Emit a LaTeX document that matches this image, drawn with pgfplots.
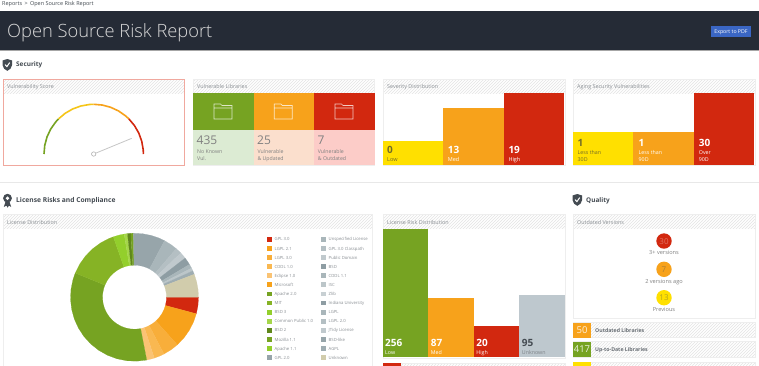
\documentclass[border=0pt]{standalone}
\usepackage{fontspec}
\setmainfont{Open Sans}
\newfontfamily\lightf{Open Sans Light}
\usepackage{pgfplots}
\pgfplotsset{compat=1.18}
\usepgfplotslibrary{polar}
\usetikzlibrary{patterns}
\definecolor{hdr}{HTML}{252B36}
\definecolor{cg}{HTML}{76A322}
\definecolor{co}{HTML}{F7A21B}
\definecolor{cr}{HTML}{D2280F}
\definecolor{cy}{HTML}{FFE000}
\definecolor{cgr}{HTML}{BEC8CE}
\definecolor{txtg}{HTML}{8A8F94}
\definecolor{txtd}{HTML}{444B52}
\definecolor{cardb}{HTML}{EEEEEE}
\definecolor{hatch}{HTML}{E4E4E4}
\definecolor{btn}{HTML}{3A66C4}
\definecolor{salmon}{HTML}{F0A89E}
\definecolor{gy}{HTML}{F5C518}
\definecolor{tg}{HTML}{DCEBD3}
\definecolor{to}{HTML}{FBDFCD}
\definecolor{tr}{HTML}{FCCCC8}
\definecolor{o1}{HTML}{F8AE3A}
\definecolor{o2}{HTML}{F9B851}
\definecolor{o3}{HTML}{FAC374}
\definecolor{g1}{HTML}{86B325}
\definecolor{g2}{HTML}{93CF2C}
\definecolor{g3}{HTML}{A5D64A}
\definecolor{g4}{HTML}{5F871B}
\definecolor{a1}{HTML}{97A5AA}
\definecolor{a2}{HTML}{A9B6BA}
\definecolor{a3}{HTML}{B4BFC3}
\definecolor{a4}{HTML}{C0C9CD}
\definecolor{a5}{HTML}{8E9DA3}
\definecolor{a6}{HTML}{BCC6C9}
\definecolor{a7}{HTML}{9FADB2}
\definecolor{a8}{HTML}{C8D0D3}
\definecolor{tan}{HTML}{D1CCAC}
\newcommand\tx[5]{\node[anchor=base west,inner sep=0pt,text=#4] at (#1,#2) {\fontsize{#3}{#3}\selectfont #5};}
\newcommand\txc[5]{\node[anchor=base,inner sep=0pt,text=#4] at (#1,#2) {\fontsize{#3}{#3}\selectfont #5};}
\newcommand\card[4]{%
 \fill[white] (#1,#2) rectangle (#3,#4);
 \fill[pattern=north east lines,pattern color=hatch] (#1,#2) rectangle (#3,#2+14);
 \draw[cardb,line width=0.9pt] (#1,#2) rectangle (#3,#4);}
\newcommand\shield[2]{%
 \begin{scope}[shift={(#1,#2)}]
 \fill[txtd] (0,1.5) -- (4.8,0) -- (9.6,1.5) -- (9.6,6) .. controls (9.6,9) and (7,10.8) .. (4.8,11.8) .. controls (2.6,10.8) and (0,9) .. (0,6) -- cycle;
 \draw[white,line width=1pt] (2.6,5.6) -- (4.4,7.6) -- (7.2,3.6);
 \end{scope}}
\newcommand\folder[2]{%
 \begin{scope}[shift={(#1,#2)}]
 \draw[white,opacity=.75,line width=.7pt] (0,1) -- (0,16) -- (18,16) -- (18,2.5) -- (8,2.5) -- (6.5,1) -- cycle (0,5) -- (18,5);
 \end{scope}}
\newcommand\lgd[4]{\fill[#3] (#1,#2-2.4) rectangle (#1+4.8,#2+2.4); \tx{#1+7.5}{#2+1.6}{4.25}{txtg}{#4}}
\newcommand\wdg[2]{\addplot[fill=#1,draw=#1,line width=.15pt,no markers] coordinates {#2} -- cycle;}
\begin{document}
\begin{tikzpicture}[x=1pt,y=-1pt]
\useasboundingbox (0,0) rectangle (759,365);
\clip (0,0) rectangle (759,365);
\fill[white] (0,0) rectangle (759,365);
% header
\tx{2}{5.3}{5.5}{txtd}{Reports \,>\, Open Source Risk Report}
\fill[hdr] (0,11) rectangle (759,50);
\fill[gray!70] (0,50) rectangle (759,50.8);
\tx{7}{37}{18.3}{white!85!black}{\lightf Open Source Risk Report}
\fill[btn] (711,26) rectangle (751,37);
\txc{731}{33.5}{5.2}{white}{Export to PDF}
% sections
\shield{2.5}{59}
\tx{16}{66.5}{6.4}{txtd}{\bfseries Security}
\draw[gray!18,line width=.8pt] (0,182) -- (759,182);
% Vulnerability score card
\card{193}{79}{374.7}{165.5}
\card{383}{79}{565}{165.5}
\card{573}{79}{755}{165.5}
\card{3}{79}{184.5}{165.5}
\draw[salmon,line width=.9pt] (3,79) rectangle (184.5,165.5);
\tx{7}{88}{5.4}{txtg}{Vulnerability Score}
\tx{197}{88}{5.4}{txtg}{Vulnerable Libraries}
\tx{387}{88}{5.4}{txtg}{Severity Distribution}
\tx{577}{88}{5.4}{txtg}{Aging Security Vulnerabilities}
% gauge
\begin{polaraxis}[at={(93.7pt,-154pt)},anchor=center,scale only axis,width=99.4pt,height=99.4pt,hide axis,xmin=0,xmax=360,ymin=0,ymax=49.7,clip=false]
\addplot[cg,line width=1.6pt] coordinates {(180,49.7)(170,49.7)(160,49.7)(150,49.7)(140,49.7)(135,49.7)};
\addplot[gy,line width=1.6pt] coordinates {(135,49.7)(125,49.7)(115,49.7)(105,49.7)(95,49.7)(90,49.7)};
\addplot[co,line width=1.6pt] coordinates {(90,49.7)(80,49.7)(70,49.7)(60,49.7)(50,49.7)(45,49.7)};
\addplot[cr,line width=1.6pt] coordinates {(45,49.7)(35,49.7)(25,49.7)(15,49.7)(5,49.7)(0,49.7)};
\addplot[gray!45,line width=.8pt] coordinates {(22.4,2.5)(22.4,41)};
\addplot[only marks,mark=*,mark size=2.2pt,mark options={fill=white,draw=gray!60,line width=.6pt}] coordinates {(0,0)};
\end{polaraxis}
% Vulnerable libraries tiles
\fill[cg] (192.7,93) rectangle (253.7,130);
\fill[co] (253.7,93) rectangle (314,130);
\fill[cr] (314,93) rectangle (374.7,130);
\fill[tg] (192.7,130) rectangle (253.7,165);
\fill[to] (253.7,130) rectangle (314,165);
\fill[tr] (314,130) rectangle (374.7,165);
\folder{214}{103}\folder{274.3}{103}\folder{335}{103}
\tx{196.5}{144}{12}{gray}{435}
\tx{257}{144}{12}{gray}{25}
\tx{317.5}{144}{12}{gray}{7}
\tx{197}{153}{5.2}{gray}{No Known}
\tx{197}{160.3}{5.2}{gray}{Vul.}
\tx{257.3}{153}{5.2}{gray}{Vulnerable}
\tx{257.3}{160.3}{5.2}{gray}{\& Updated}
\tx{317.7}{153}{5.2}{gray}{Vulnerable}
\tx{317.7}{160.3}{5.2}{gray}{\& Outdated}
% Severity
\begin{axis}[at={(382.7pt,-165pt)},anchor=south west,scale only axis,width=181.3pt,height=72pt,hide axis,xmin=-0.5,xmax=2.5,ymin=0,ymax=28.5,y filter/.expression={y+9.5},clip=false]
\addplot[ybar,bar width=1,bar shift=0,fill=cy,draw=none] coordinates {(0,0)};
\addplot[ybar,bar width=1,bar shift=0,fill=co,draw=none] coordinates {(1,13)};
\addplot[ybar,bar width=1,bar shift=0,fill=cr,draw=none] coordinates {(2,19)};
\end{axis}
\tx{387}{153}{10}{txtd!60!cy!80!black}{\bfseries 0}
\tx{447.7}{153}{10}{white}{\bfseries 13}
\tx{508.3}{153}{10}{white}{\bfseries 19}
\tx{387}{161.5}{5.5}{txtd!60!cy!80!black}{Low}
\tx{447.7}{161.5}{5.5}{white}{Med}
\tx{508.3}{161.5}{5.5}{white}{High}
% Aging
\begin{axis}[at={(572.7pt,-165pt)},anchor=south west,scale only axis,width=181.6pt,height=72pt,hide axis,xmin=-0.5,xmax=2.5,ymin=0,ymax=53.5,y filter/.expression={y+23.5},clip=false]
\addplot[ybar,bar width=1,bar shift=0,fill=cy,draw=none] coordinates {(0,1)};
\addplot[ybar,bar width=1,bar shift=0,fill=co,draw=none] coordinates {(1,1)};
\addplot[ybar,bar width=1,bar shift=0,fill=cr,draw=none] coordinates {(2,30)};
\end{axis}
\tx{577.5}{146}{10}{txtd!60!cy!80!black}{\bfseries 1}
\tx{638.5}{146}{10}{white}{\bfseries 1}
\tx{698.7}{146}{10}{white}{\bfseries 30}
\tx{577.5}{154}{5.3}{txtd!60!cy!80!black}{Less than}
\tx{577.5}{161.5}{5.3}{txtd!60!cy!80!black}{30D}
\tx{638.5}{154}{5.3}{white}{Less than}
\tx{638.5}{161.5}{5.3}{white}{90D}
\tx{698.7}{154}{5.3}{white}{Over}
\tx{698.7}{161.5}{5.3}{white}{90D}
% License section
\begin{scope}[shift={(3,194)}]
\fill[txtd] (2.4,8) -- (0.8,13) -- (3.4,11.6) -- (4.5,13.6) -- (6,11.6) -- (8.2,13) -- (6.6,8) -- cycle;
\fill[txtd] (4.5,4.2) circle (4.4);
\fill[white] (4.5,4.2) circle (1.8);
\end{scope}
\tx{16}{202.6}{6.7}{txtd}{\bfseries License Risks and Compliance}
\shield{572.5}{194}
\tx{586}{202.6}{6.4}{txtd}{\bfseries Quality}
\card{3}{214}{372}{372}
\tx{7}{224}{5.4}{txtg}{License Distribution}
\card{383}{214}{565}{358.5}
\tx{387}{224}{5.4}{txtg}{License Risk Distribution}
\card{573}{214}{755}{318.5}
\tx{577}{224}{5.4}{txtg}{Outdated Versions}
% donut: each wedge = outer arc, then inner arc back (angle, radius)
\begin{polaraxis}[at={(134.5pt,-297.2pt)},anchor=center,scale only axis,width=128pt,height=128pt,hide axis,xmin=0,xmax=360,ymin=0,ymax=64,clip=false]
\wdg{cr}{(0,64)(-7.5,64)(-15,64)(-15,32)(-7.5,32)(0,32)}
\wdg{co}{(-15,64)(-23,64)(-31,64)(-39,64)(-48,64)(-48,32)(-39,32)(-31,32)(-23,32)(-15,32)}
\wdg{o1}{(-48,64)(-55,64)(-62.6,64)(-62.6,32)(-55,32)(-48,32)}
\wdg{o2}{(-62.6,64)(-67,64)(-72,64)(-72,32)(-67,32)(-62.6,32)}
\wdg{o3}{(-72,64)(-75,64)(-79,64)(-79,32)(-75,32)(-72,32)}
\wdg{cg}{(281,64)(272,64)(263,64)(254,64)(245,64)(236,64)(227,64)(218,64)(209,64)(200,64)(191,64)(182,64)(173,64)(164,64)(157.8,64)(157.8,32)(164,32)(173,32)(182,32)(191,32)(200,32)(209,32)(218,32)(227,32)(236,32)(245,32)(254,32)(263,32)(272,32)(281,32)}
\wdg{g1}{(157.8,64)(149,64)(140,64)(131,64)(122,64)(114,64)(109.3,64)(109.3,32)(114,32)(122,32)(131,32)(140,32)(149,32)(157.8,32)}
\wdg{g2}{(109.3,64)(104,64)(99.3,64)(99.3,32)(104,32)(109.3,32)}
\wdg{g3}{(99.3,64)(96.3,64)(96.3,32)(99.3,32)}
\wdg{g4}{(96.3,64)(93.3,64)(93.3,32)(96.3,32)}
\wdg{cg}{(93.3,64)(91,64)(91,32)(93.3,32)}
\wdg{a1}{(91,64)(83,64)(75,64)(68,64)(62,64)(62,32)(68,32)(75,32)(83,32)(91,32)}
\wdg{a2}{(62,64)(55,64)(49.3,64)(49.3,32)(55,32)(62,32)}
\wdg{a3}{(49.3,64)(46.5,64)(43.7,64)(43.7,32)(46.5,32)(49.3,32)}
\wdg{a4}{(43.7,64)(40.7,64)(37.7,64)(37.7,32)(40.7,32)(43.7,32)}
\wdg{a5}{(37.7,64)(34,64)(30.8,64)(30.8,32)(34,32)(37.7,32)}
\wdg{a2}{(30.8,64)(27,64)(27,32)(30.8,32)}
\wdg{a6}{(27,64)(24.3,64)(24.3,32)(27,32)}
\wdg{a7}{(24.3,64)(21,64)(21,32)(24.3,32)}
\wdg{tan}{(21,64)(14,64)(7,64)(0,64)(0,32)(7,32)(14,32)(21,32)}
\end{polaraxis}
% legend
\lgd{267}{239.3}{cr}{GPL 3.0}
\lgd{267}{248.4}{co}{LGPL 2.1}
\lgd{267}{257.5}{o1}{LGPL 3.0}
\lgd{267}{266.6}{o2}{CDDL 1.0}
\lgd{267}{275.7}{o3}{Eclipse 1.0}
\lgd{267}{284.8}{co}{Microsoft}
\lgd{267}{293.9}{cg}{Apache 2.0}
\lgd{267}{303}{g1}{MIT}
\lgd{267}{312.1}{g2}{BSD 3}
\lgd{267}{321.2}{g3}{Common Public 1.0}
\lgd{267}{330.3}{g4}{BSD 2}
\lgd{267}{339.4}{cg}{Mozilla 1.1}
\lgd{267}{348.5}{g2}{Apache 1.1}
\lgd{267}{357.6}{a1}{GPL 2.0}
\lgd{321}{239.3}{a2}{Unspecified License}
\lgd{321}{248.4}{a3}{GPL 3.0 Classpath}
\lgd{321}{257.5}{a4}{Public Domain}
\lgd{321}{266.6}{a5}{BSD}
\lgd{321}{275.7}{a2}{CDDL 1.1}
\lgd{321}{284.8}{a6}{ISC}
\lgd{321}{293.9}{a8}{Zlib}
\lgd{321}{303}{a5}{Indiana University}
\lgd{321}{312.1}{a2}{LGPL}
\lgd{321}{321.2}{a3}{LGPL 2.0}
\lgd{321}{330.3}{a4}{JTidy License}
\lgd{321}{339.4}{a1}{BSD-like}
\lgd{321}{348.5}{a7}{AGPL}
\lgd{321}{357.6}{tan}{Unknown}
% License risk bars
\begin{axis}[at={(383pt,-357.3pt)},anchor=south west,scale only axis,width=181.7pt,height=128pt,hide axis,xmin=-0.5,xmax=3.5,ymin=0,ymax=313.6,y filter/.expression={y+57.6},clip=false]
\addplot[ybar,bar width=1,bar shift=0,fill=cg,draw=none] coordinates {(0,256)};
\addplot[ybar,bar width=1,bar shift=0,fill=co,draw=none] coordinates {(1,87)};
\addplot[ybar,bar width=1,bar shift=0,fill=cr,draw=none] coordinates {(2,20)};
\addplot[ybar,bar width=1,bar shift=0,fill=cgr,draw=none] coordinates {(3,95)};
\end{axis}
\tx{385}{346.3}{10}{white}{\bfseries 256}
\tx{430.7}{346.3}{10}{white}{\bfseries 87}
\tx{476.2}{346.3}{10}{white}{\bfseries 20}
\tx{521.7}{346.3}{10}{txtd}{\bfseries 95}
\tx{385}{354.6}{5.3}{white}{Low}
\tx{430.7}{354.6}{5.3}{white}{Med}
\tx{476.2}{354.6}{5.3}{white}{High}
\tx{521.7}{354.6}{5.3}{txtd!70!white}{Unknown}
\card{383}{363}{565}{372}
\fill[cr] (383,363) rectangle (401,372);
% Outdated circles
\fill[cr] (664,241) circle (7.7);
\fill[co] (664,269.3) circle (7.7);
\fill[cy] (664,297.7) circle (7.7);
\txc{664}{244}{8}{cr!65!white}{30}
\txc{664}{272.3}{8}{txtd!40!co}{7}
\txc{664}{300.7}{8}{txtd!40!cy}{13}
\txc{664}{254.5}{5.6}{gray}{3+ versions}
\txc{664}{283}{5.6}{gray}{2 versions ago}
\txc{664}{311.3}{5.6}{gray}{Previous}
% Tiles
\fill[pattern=north east lines,pattern color=hatch] (573,322.7) rectangle (755,337.7);
\draw[cardb,line width=.9pt] (573,322.7) rectangle (755,337.7);
\fill[co] (573,322.7) rectangle (591,337.7);
\txc{582}{333.7}{9.5}{white!85!co}{50}
\tx{595}{332.5}{5.2}{txtd!80!white}{\bfseries Outdated Libraries}
\fill[pattern=north east lines,pattern color=hatch] (573,341.7) rectangle (755,357);
\draw[cardb,line width=.9pt] (573,341.7) rectangle (755,357);
\fill[cg] (573,341.7) rectangle (591,357);
\txc{582}{352.8}{9.5}{white!85!cg}{417}
\tx{595}{351.7}{5.2}{txtd!80!white}{\bfseries Up-to-Date Libraries}
\fill[pattern=north east lines,pattern color=hatch] (573,362) rectangle (755,372);
\draw[cardb,line width=.9pt] (573,362) rectangle (755,372);
\fill[cy] (573,362) rectangle (591,372);
\end{tikzpicture}
\end{document}
